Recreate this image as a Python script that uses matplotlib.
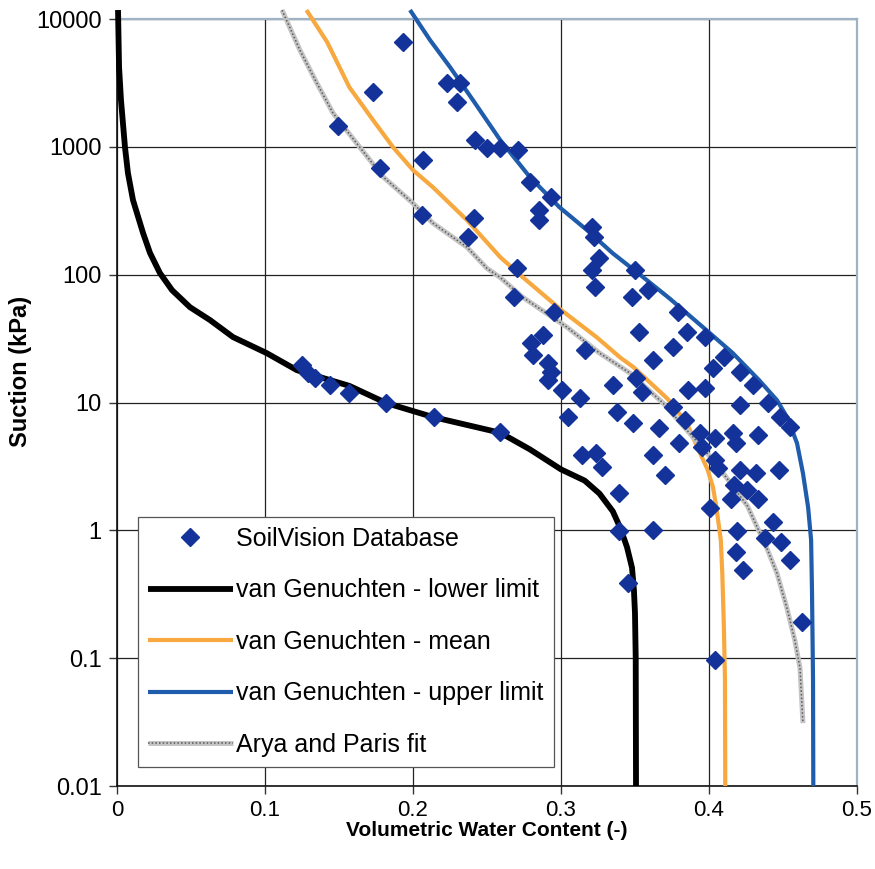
import matplotlib.pyplot as plt
from matplotlib.legend_handler import HandlerTuple
from matplotlib.ticker import NullLocator

plt.rcParams['font.family'] = ['Liberation Sans', 'DejaVu Sans']

# SoilVision database: volumetric water content (-) and suction (kPa)
db_theta = [
    0.193, 0.173, 0.149, 0.178, 0.207, 0.206, 0.223, 0.232, 0.230, 0.242,
    0.250, 0.259, 0.271, 0.279, 0.293, 0.285, 0.285, 0.241, 0.237, 0.321,
    0.322, 0.326, 0.321, 0.323, 0.350, 0.348, 0.359, 0.270, 0.268, 0.295,
    0.288, 0.280, 0.281, 0.291, 0.293, 0.291, 0.316, 0.301, 0.313, 0.305,
    0.335, 0.338, 0.314, 0.324, 0.328, 0.379, 0.353, 0.385, 0.376, 0.397,
    0.362, 0.410, 0.403, 0.421, 0.430, 0.351, 0.355, 0.386, 0.397, 0.421,
    0.440, 0.448, 0.455, 0.376, 0.384, 0.349, 0.366, 0.394, 0.404, 0.416,
    0.433, 0.380, 0.395, 0.362, 0.404, 0.421, 0.447, 0.339, 0.339, 0.362,
    0.370, 0.418, 0.406, 0.432, 0.417, 0.426, 0.415, 0.433, 0.401, 0.419,
    0.443, 0.438, 0.449, 0.418, 0.455, 0.423, 0.345, 0.463, 0.404,
    0.125, 0.129, 0.134, 0.144, 0.157, 0.182, 0.214, 0.259,
]
db_suction = [
    6600, 2700, 1450, 680, 790, 293, 3150, 3150, 2250, 1130,
    980, 980, 945, 530, 405, 320, 267, 277, 197, 236,
    197, 135, 109, 80, 109, 67, 76, 113, 67, 51,
    33.7, 29.1, 23.5, 20.3, 17.3, 15.0, 25.7, 12.5, 10.8, 7.7,
    13.7, 8.4, 3.87, 4.02, 3.12, 51, 35.6, 35.6, 27.1, 32.5,
    21.5, 22.6, 18.6, 17.3, 13.7, 15.5, 12.1, 12.5, 13.0, 9.5,
    9.9, 7.7, 6.4, 9.2, 7.3, 6.9, 6.3, 5.8, 5.3, 5.8,
    5.6, 4.8, 4.5, 3.87, 3.54, 2.96, 2.96, 1.95, 0.99, 1.0,
    2.7, 4.8, 3.07, 2.8, 2.26, 2.06, 1.75, 1.75, 1.49, 0.99,
    1.16, 0.87, 0.81, 0.675, 0.585, 0.489, 0.386, 0.191, 0.0964,
    19.6, 17.0, 15.5, 13.7, 11.9, 9.9, 7.7, 5.9,
]

# van Genuchten - lower limit
vg_low_theta = [0.0007, 0.0014, 0.0027, 0.0054, 0.0074, 0.0108, 0.0176,
                0.0223, 0.029, 0.0372, 0.0493, 0.0628, 0.0784, 0.101, 0.1216,
                0.157, 0.182, 0.2135, 0.259, 0.279, 0.300, 0.316, 0.326,
                0.335, 0.340, 0.3446, 0.348, 0.3493, 0.350, 0.3505, 0.3507]
vg_low_suction = [11760, 4210, 2323, 995, 624, 384, 212, 148, 103, 75.7,
                  55.7, 44.2, 32.5, 24.4, 17.9, 13.5, 9.9, 7.7, 5.8, 4.3,
                  3.0, 2.45, 1.94, 1.41, 1.05, 0.74, 0.51, 0.34, 0.225, 0.1,
                  0.01]

# van Genuchten - mean
vg_mean_theta = [0.128, 0.142, 0.157, 0.173, 0.1865, 0.200, 0.2135, 0.2365,
                 0.259, 0.274, 0.301, 0.324, 0.340, 0.349, 0.372, 0.385,
                 0.392, 0.399, 0.4027, 0.405, 0.408, 0.409, 0.410, 0.4108,
                 0.411]
vg_mean_suction = [11760, 6600, 2930, 1620, 995, 658, 483, 267, 137, 96, 52,
                   32.5, 22.5, 18.9, 10.7, 6.9, 4.5, 3.0, 2.18, 1.51, 0.84,
                   0.46, 0.19, 0.069, 0.01]

# van Genuchten - upper limit
vg_up_theta = [0.198, 0.2115, 0.225, 0.2405, 0.259, 0.279, 0.299, 0.3176,
               0.335, 0.3534, 0.3735, 0.4007, 0.416, 0.434, 0.446, 0.453,
               0.4595, 0.4635, 0.467, 0.469, 0.4696, 0.4703, 0.4705]
vg_up_suction = [11760, 6850, 4210, 2323, 1128, 580, 337, 223, 147, 100, 65,
                 34.8, 24.4, 14.9, 10.4, 7.6, 4.8, 2.8, 1.51, 0.84, 0.34,
                 0.069, 0.01]

# Arya and Paris fit
ap_theta = [0.1115, 0.1236, 0.135, 0.146, 0.164, 0.180, 0.200, 0.2135,
            0.2365, 0.250, 0.259, 0.274, 0.304, 0.326, 0.3466, 0.369, 0.385,
            0.405, 0.426, 0.439, 0.446, 0.4527, 0.458, 0.4615, 0.4635]
ap_suction = [11760, 5710, 3160, 1836, 995, 580, 362, 253, 164, 112, 95,
              66.8, 38.9, 24.4, 17, 9.9, 6.1, 3.3, 1.55, 0.73, 0.46, 0.246,
              0.138, 0.084, 0.031]

x_ticks = [0, 0.1, 0.2, 0.3, 0.4, 0.5]
x_tick_labels = ['0', '0.1', '0.2', '0.3', '0.4', '0.5']
y_ticks = [0.01, 0.1, 1, 10, 100, 1000, 10000]
y_tick_labels = ['0.01', '0.1', '1', '10', '100', '1000', '10000']

fig = plt.figure(figsize=(8.75, 8.69), dpi=100)
ax = fig.add_axes([0.1337, 0.0955, 0.8457, 0.8826])

ax.set_yscale('log')
ax.set_xlim(0, 0.5)
ax.set_ylim(0.01, 10000)

l_low, = ax.plot(vg_low_theta, vg_low_suction, color='black', lw=4.2,
                 solid_capstyle='butt', solid_joinstyle='round',
                 clip_on=False, zorder=3)
l_mean, = ax.plot(vg_mean_theta, vg_mean_suction, color='#f7a83e', lw=3.0,
                  solid_capstyle='butt', solid_joinstyle='round',
                  clip_on=False, zorder=3)
l_up, = ax.plot(vg_up_theta, vg_up_suction, color='#1f5cab', lw=3.0,
                solid_capstyle='butt', solid_joinstyle='round',
                clip_on=False, zorder=3)
l_ap1, = ax.plot(ap_theta, ap_suction, color='#c4c4c4', lw=3.6,
                 solid_capstyle='butt', solid_joinstyle='round',
                 clip_on=False, zorder=3)
l_ap2, = ax.plot(ap_theta, ap_suction, color='#5a5a5a', lw=1.1,
                 linestyle=(0, (1, 1.4)), clip_on=False, zorder=3)

pts, = ax.plot(db_theta, db_suction, linestyle='none', marker='D',
               markersize=9.5, color='#13329a', markeredgecolor='#13329a',
               zorder=4)

ax.set_xticks(x_ticks)
ax.set_xticklabels(x_tick_labels)
ax.set_yticks(y_ticks)
ax.set_yticklabels(y_tick_labels)
ax.yaxis.set_minor_locator(NullLocator())
ax.tick_params(axis='both', which='major', length=6, width=1,
               direction='out', color='#333333')
ax.tick_params(axis='x', labelsize=16, pad=4)
ax.tick_params(axis='y', labelsize=17, pad=5)

ax.grid(True, which='major', color='#222222', lw=0.9)
ax.set_axisbelow(True)

for side in ['left', 'bottom']:
    ax.spines[side].set_color('#111111')
    ax.spines[side].set_linewidth(1.2)
for side in ['top', 'right']:
    ax.spines[side].set_color('#9fb3c6')
    ax.spines[side].set_linewidth(1.6)

ax.set_xlabel('Volumetric Water Content (-)', fontweight='bold', fontsize=15)
ax.set_ylabel('Suction (kPa)', fontweight='bold', fontsize=17)
ax.xaxis.set_label_coords(0.5, -0.046)
ax.yaxis.set_label_coords(-0.115, 0.54)

leg = ax.legend([pts, l_low, l_mean, l_up, (l_ap1, l_ap2)],
                ['SoilVision Database', 'van Genuchten - lower limit',
                 'van Genuchten - mean', 'van Genuchten - upper limit',
                 'Arya and Paris fit'],
                handler_map={tuple: HandlerTuple(ndivide=1)},
                loc='lower left', bbox_to_anchor=(0.028, 0.025),
                borderaxespad=0, fontsize=18, handlelength=3.4,
                handletextpad=0.15, labelspacing=1.1, borderpad=0.4,
                fancybox=False, framealpha=1, edgecolor='#555555')
leg.get_frame().set_linewidth(0.9)
leg.set_zorder(5)

fig.savefig('out.png', dpi=100)
